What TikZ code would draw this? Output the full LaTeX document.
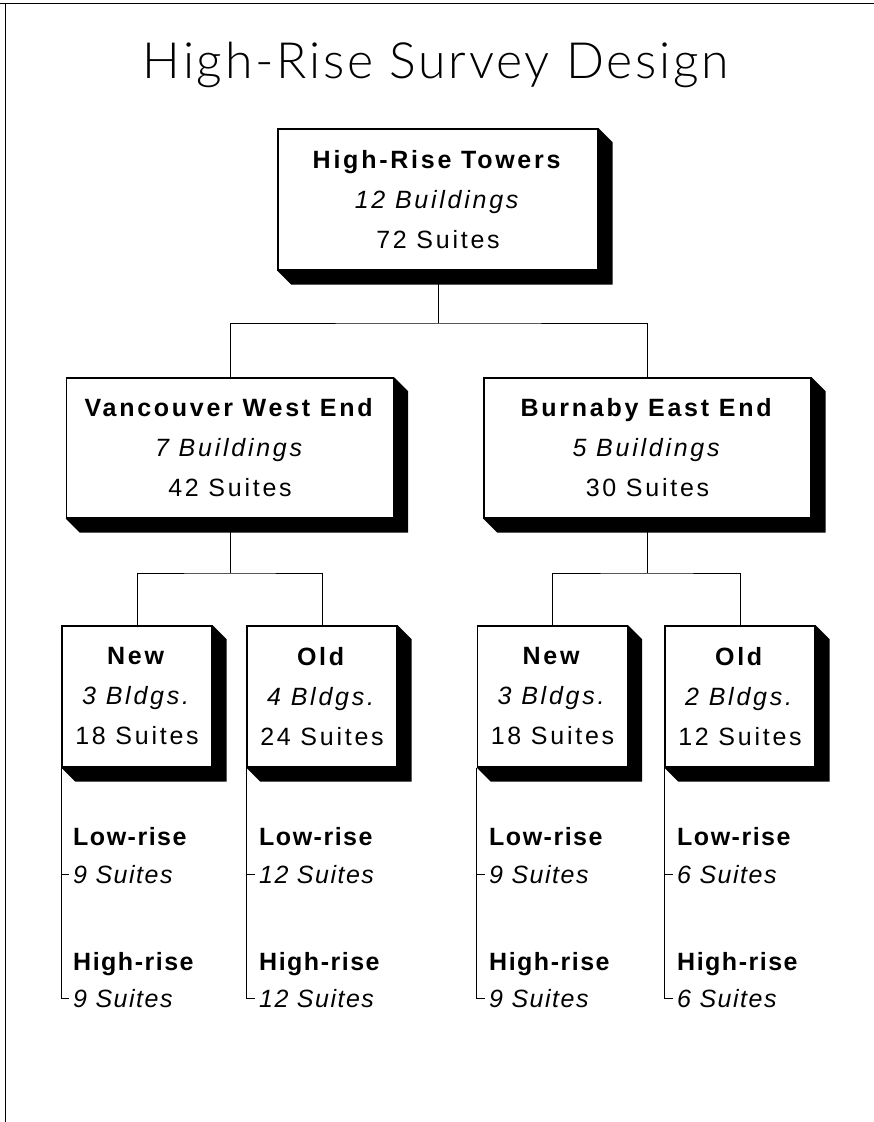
\documentclass[tikz,border=0pt]{standalone}
\usepackage{fontspec}
\setmainfont[LetterSpace=11]{Liberation Sans}
\newfontfamily\leaffont[LetterSpace=6]{Liberation Sans}
\newfontfamily\titlefont[LetterSpace=5.5]{Lato Light}
\pgfdeclarelayer{bg}
\pgfsetlayers{bg,main}
\newcommand\boxshadow[1]{%
  \fill (#1.south west) -- ++(14,14) -- ([shift={(14,14)}]#1.south east)
    -- ([shift={(14,14)}]#1.north east) -- (#1.north east) -- (#1.south east) -- cycle;}
\begin{document}
\begin{tikzpicture}[x=1pt,y=-1pt,
  box/.style={draw, line width=1.3pt, fill=white, inner sep=0pt, align=center,
    font=\fontsize{25}{40}\selectfont},
  lvl1/.style={box, minimum width=320pt, minimum height=141pt},
  lvl2/.style={box, minimum width=327pt, minimum height=140pt},
  leaf/.style={box, minimum width=150pt, minimum height=141pt},
  conn/.style={line width=0.9pt},
  lbl/.style={anchor=base west, inner sep=0pt, font=\leaffont\fontsize{25}{30}\selectfont\bfseries},
  lbli/.style={anchor=base west, inner sep=0pt, font=\leaffont\fontsize{25}{30}\selectfont\itshape}]
\useasboundingbox (0,0) rectangle (874,1122);
\begin{pgfonlayer}{bg}
\fill[white] (0,0) rectangle (874,1122);
\end{pgfonlayer}
% frame (top and left edges)
\draw[line width=1pt] (0,3) -- (874,3);
\draw[line width=1pt] (5,3) -- (5,1122);
% title
\node[font=\titlefont\fontsize{50}{55}\selectfont, anchor=base, inner sep=0pt] (title) at (436,78) {High-Rise Survey Design};
% boxes
\node[lvl1] (top) at (438,199.5) {\textbf{High-Rise Towers}\\\textit{12 Buildings}\\72 Suites};
\node[lvl2] (van) at (230,448) {\textbf{Vancouver West End}\\\textit{7 Buildings}\\42 Suites};
\node[lvl2] (bur) at (647.5,448) {\textbf{Burnaby East End}\\\textit{5 Buildings}\\30 Suites};
\node[leaf] (vn) at (137,696.5) {\textbf{New}\\\textit{3 Bldgs.}\\18 Suites};
\node[leaf] (vo) at (322,696.5) {\textbf{Old}\\\textit{4 Bldgs.}\\24 Suites};
\node[leaf] (bn) at (552.5,696.5) {\textbf{New}\\\textit{3 Bldgs.}\\18 Suites};
\node[leaf] (bo) at (740,696.5) {\textbf{Old}\\\textit{2 Bldgs.}\\12 Suites};
% connectors
\coordinate (j1) at (438,323);
\coordinate (j2) at (230,573);
\coordinate (j3) at (647.5,573);
\begin{pgfonlayer}{bg}
\foreach \n in {top,van,bur,vn,vo,bn,bo}{\boxshadow{\n}}
\draw[conn] (top.south) -- (j1);
\draw[conn] (van.north) |- (j1) -| (bur.north);
\draw[conn] (van.south) -- (j2);
\draw[conn] (vn.north) |- (j2) -| (vo.north);
\draw[conn] (bur.south) -- (j3);
\draw[conn] (bn.north) |- (j3) -| (bo.north);
\end{pgfonlayer}
% leaf items
\foreach \b/\x/\s in {vn/73/9, vo/259/12, bn/489/9, bo/677/6}{
  \node[lbl]  (\b A) at (\x,845) {Low-rise};
  \node[lbli] (\b B) at (\x,883) {\s\ Suites};
  \node[lbl]  (\b C) at (\x,970) {High-rise};
  \node[lbli] (\b D) at (\x,1007) {\s\ Suites};
  \draw[conn] (\b.south west) |- ([xshift=-4pt]\b D.west);
  \draw[conn] (\b.south west |- \b B.west) -- ([xshift=-4pt]\b B.west);
}
\end{tikzpicture}
\end{document}
